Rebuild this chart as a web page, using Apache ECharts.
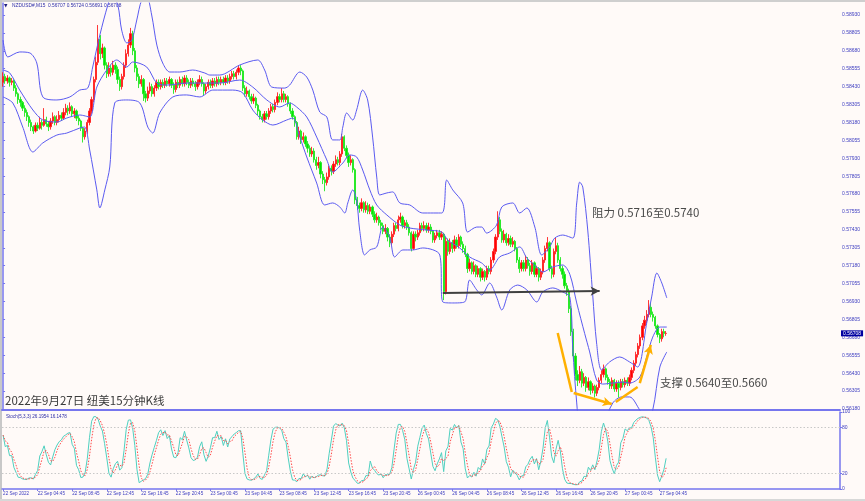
<!DOCTYPE html>
<html><head><meta charset="utf-8">
<script src="https://cdn.jsdelivr.net/npm/echarts@6/dist/echarts.min.js"></script>
<style>html,body{margin:0;padding:0;background:#fffaf8}#c{width:865px;height:501px}</style>
</head><body><div id="c"></div>
<script>
// ---- data (prices in pips: 5846 = 0.5846) ----
const firstOpen = 5846;
const closes = [
5850,5847,5849,5846,5847,5842,5838,5834,5832,5828,
5825,5822,5818,5815,5812,5816,5814,5818,5816,5820,
5817,5815,5819,5822,5818,5820,5823,5821,5825,5828,
5826,5829,5824,5826,5821,5819,5814,5808,5812,5818,
5826,5834,5848,5860,5876,5866,5870,5858,5852,5856,
5853,5858,5855,5848,5843,5850,5858,5866,5872,5880,
5868,5856,5850,5845,5848,5838,5835,5840,5843,5838,
5842,5846,5843,5846,5844,5847,5845,5848,5844,5841,
5846,5844,5848,5845,5849,5846,5844,5847,5845,5843,
5846,5848,5845,5840,5843,5846,5844,5847,5845,5848,
5846,5848,5846,5849,5847,5850,5852,5850,5853,5856,
5854,5842,5838,5840,5836,5833,5835,5830,5826,5822,
5820,5824,5822,5826,5829,5827,5832,5836,5834,5838,
5834,5836,5831,5826,5822,5818,5808,5812,5806,5808,
5803,5800,5796,5798,5792,5788,5790,5782,5778,5776,
5780,5786,5784,5789,5792,5790,5796,5808,5800,5795,
5790,5792,5785,5764,5760,5758,5762,5757,5760,5756,
5759,5754,5750,5752,5748,5746,5742,5744,5738,5734,
5740,5746,5744,5750,5752,5746,5748,5745,5741,5730,
5740,5738,5741,5746,5744,5746,5743,5745,5742,5736,
5739,5741,5738,5740,5700,5735,5728,5734,5730,5736,
5732,5738,5733,5730,5726,5716,5720,5714,5718,5712,
5716,5710,5714,5710,5716,5714,5722,5728,5738,5750,
5742,5736,5740,5734,5737,5733,5735,5730,5722,5716,
5720,5716,5722,5718,5714,5720,5712,5716,5710,5714,
5722,5730,5734,5716,5712,5728,5732,5722,5716,5712,
5704,5700,5688,5672,5655,5642,5638,5644,5636,5640,
5633,5637,5631,5634,5629,5633,5638,5642,5646,5640,
5637,5634,5638,5632,5636,5633,5637,5635,5638,5636,
5640,5645,5650,5656,5662,5668,5676,5680,5684,5689,
5684,5682,5676,5670,5667,5672,5670.7,5670.8];
const highs = [
5853,5852,5851,5850,5849,5848,5844,5839,5836,5833,
5830,5827,5823,5820,5816,5818,5818,5822,5820,5828,
5822,5819,5821,5825,5823,5823,5826,5825,5828,5831,
5830,5832,5830,5828,5827,5823,5820,5815,5814,5820,
5828,5836,5850,5864,5886,5879,5873,5871,5860,5860,
5858,5861,5860,5857,5850,5852,5860,5869,5876,5884,
5882,5870,5858,5852,5851,5849,5840,5843,5846,5845,
5844,5848,5848,5848,5848,5849,5849,5850,5849,5846,
5848,5848,5850,5850,5851,5851,5848,5849,5849,5847,
5848,5851,5850,5846,5845,5848,5848,5849,5849,5850,
5850,5850,5850,5851,5851,5852,5854,5854,5855,5858,
5858,5855,5844,5843,5841,5838,5838,5836,5831,5827,
5824,5826,5826,5828,5831,5831,5834,5839,5838,5842,
5840,5838,5837,5832,5828,5823,5819,5815,5813,5811,
5809,5805,5802,5801,5800,5794,5794,5791,5784,5780,
5783,5788,5788,5791,5795,5794,5798,5810,5809,5802,
5797,5795,5793,5786,5766,5762,5765,5763,5763,5762,
5761,5760,5756,5755,5753,5750,5748,5747,5745,5740,
5742,5748,5748,5753,5755,5753,5750,5750,5747,5742,
5742,5742,5743,5748,5748,5749,5748,5748,5747,5743,
5741,5743,5743,5742,5741,5738,5737,5737,5736,5739,
5738,5740,5739,5735,5732,5727,5723,5721,5721,5719,
5718,5717,5716,5715,5718,5718,5724,5730,5740,5756,
5752,5744,5743,5741,5740,5739,5738,5736,5731,5724,
5722,5722,5725,5724,5720,5722,5721,5718,5717,5716,
5724,5732,5738,5735,5718,5730,5738,5734,5724,5718,
5714,5706,5702,5690,5674,5657,5645,5648,5646,5643,
5641,5640,5638,5636,5635,5635,5640,5645,5649,5647,
5642,5639,5640,5639,5638,5638,5639,5639,5640,5640,
5642,5647,5652,5658,5664,5670,5678,5683,5687,5694,
5692,5686,5683,5677,5671,5674,5674,5672.4];
const lows = [
5843,5845,5845,5843,5844,5840,5836,5831,5829,5826,
5822,5819,5815,5812,5810,5811,5812,5813,5813,5815,
5815,5812,5813,5817,5816,5816,5818,5819,5820,5823,
5823,5824,5822,5821,5819,5816,5812,5804,5806,5810,
5816,5824,5832,5846,5858,5862,5863,5855,5849,5850,
5850,5851,5852,5845,5840,5841,5848,5856,5864,5870,
5865,5853,5847,5842,5843,5833,5832,5833,5838,5836,
5836,5840,5841,5841,5842,5842,5843,5843,5842,5838,
5839,5842,5842,5843,5843,5844,5842,5842,5843,5840,
5841,5844,5843,5837,5838,5841,5842,5842,5843,5843,
5844,5844,5844,5844,5845,5845,5848,5848,5848,5851,
5851,5840,5836,5836,5834,5831,5831,5828,5823,5820,
5818,5818,5820,5820,5824,5825,5825,5830,5832,5832,
5832,5832,5829,5824,5820,5815,5806,5806,5803,5804,
5801,5797,5794,5794,5790,5785,5786,5779,5775,5770,
5774,5778,5781,5782,5787,5788,5788,5794,5798,5793,
5787,5788,5783,5761,5757,5755,5756,5755,5755,5754,
5754,5752,5748,5748,5746,5743,5740,5740,5735,5731,
5732,5738,5742,5742,5748,5744,5744,5743,5739,5728,
5729,5735,5736,5739,5742,5742,5741,5741,5740,5734,
5734,5737,5736,5736,5694,5698,5725,5726,5727,5728,
5730,5730,5731,5727,5724,5713,5714,5712,5712,5710,
5710,5707,5708,5707,5708,5712,5712,5720,5726,5736,
5740,5734,5734,5732,5732,5731,5731,5728,5720,5713,
5714,5714,5714,5716,5711,5712,5710,5710,5707,5708,
5712,5720,5728,5714,5709,5710,5726,5720,5714,5709,
5702,5697,5685,5669,5652,5638,5634,5636,5633,5634,
5630,5631,5628,5629,5626,5627,5631,5636,5640,5638,
5635,5632,5632,5630,5630,5626,5631,5633,5633,5634,
5634,5638,5643,5648,5654,5660,5666,5674,5678,5682,
5682,5679,5674,5668,5664,5665,5668,5669.1];

// Bollinger bands: [bar index, price in pips]
const bbUpper = [[0,5875.5],[2.2,5863.7],[7.7,5867.2],[12.4,5866.5],[15.6,5859.5],[18.4,5835.8],[24.9,5833.7],[30.9,5835.8],[35.5,5840.6],[39.2,5842],[41.5,5856.7],[44.8,5879],[48.5,5900],[50.3,5907],[53.1,5900],[54.9,5882.5],[57.3,5873.5],[59.6,5875.5],[61.9,5889.5],[64.2,5903.5],[66.5,5905.6],[68.8,5893],[71.2,5872],[73.9,5859.5],[77.2,5853.2],[81.8,5853.2],[87.8,5854.6],[93.4,5852.5],[95.7,5851.1],[100.3,5851.1],[109.6,5858.1],[117.9,5861.6],[121.1,5854.6],[124.4,5842.7],[130.4,5842],[132.7,5844.1],[137.4,5853.2],[140.6,5849.7],[143.4,5840.6],[146.6,5825.3],[149.9,5821.8],[152.6,5805.8],[155.9,5805.8],[157.3,5814.8],[159.1,5824.6],[161.9,5819.7],[163.7,5826.7],[166.5,5840.6],[168.8,5833.7],[171.1,5807.8],[173.0,5779.9],[174.4,5767.4],[177.7,5768.8],[180.4,5769.5],[183.7,5761.8],[188.3,5760.4],[194.3,5754.8],[203.1,5754.8],[205.4,5777.8],[208.2,5770.9],[212.8,5761.8],[215.1,5741.5],[219.3,5745],[221.6,5745],[223.9,5740.8],[228.5,5746.4],[230.9,5759],[236.0,5761.8],[239.2,5754.8],[242.5,5758.3],[246.2,5745],[249.4,5725.5],[253.1,5731.1],[255.4,5737.3],[259.1,5739.4],[263.8,5737.3],[265.6,5761.8],[267.0,5776.4],[268.4,5772.9],[270.7,5742.9],[273.0,5697.6],[274.8,5664.1],[277.1,5645.2],[280.8,5650.8],[285.5,5654.3],[290.1,5650.8],[293.8,5647.3],[298.0,5678],[300.3,5696.2],[302.7,5712.9],[305.0,5705.9],[307.3,5695.5]];
const bbMiddle = [[0,5854.6],[3.1,5852.5],[7.7,5840.6],[13.8,5826.7],[18.4,5819.7],[24.9,5818.3],[29.5,5821.1],[35.5,5823.2],[40.1,5821.8],[43.4,5842.7],[48.0,5854.6],[52.6,5861.6],[57.3,5856.7],[60.0,5860.2],[66.5,5856.7],[71.2,5845.5],[75.8,5844.1],[85.0,5845.5],[95.7,5845.5],[100.3,5845.5],[109.6,5847.6],[115.6,5842.7],[122.1,5833.7],[128.1,5828.8],[132.7,5831.6],[135.9,5828.8],[140.6,5821.8],[145.2,5807.8],[149.9,5791.8],[152.6,5783.4],[157.3,5789.7],[160.5,5795.3],[163.7,5793.9],[166.5,5784.8],[169.8,5770.9],[173.0,5760.4],[177.7,5753.4],[183.7,5746.4],[188.3,5744.3],[196.2,5742.9],[203.1,5741.5],[205.9,5735.9],[211.4,5730.4],[216.0,5724.1],[221.6,5719.9],[225.3,5715],[229.9,5724.1],[234.6,5726.9],[239.2,5731.1],[242.5,5723.4],[247.1,5717.1],[249.9,5713.6],[254.5,5717.1],[259.1,5718.5],[262.4,5712],[265.6,5692],[269.3,5670.6],[271.6,5657.8],[274.8,5638.2],[277.6,5635.4],[282.3,5636.1],[286.9,5636.8],[290.1,5636.1],[294.8,5640.3],[298.0,5654.3],[300.8,5668.2],[304.1,5675.2],[307.3,5675.2]];
const bbLower = [[0,5835.8],[4.5,5831.6],[9.1,5814.8],[13.8,5797.4],[18.4,5803.7],[24.9,5809.2],[29.5,5810.6],[35.5,5814.1],[37.8,5814.8],[40.1,5798.8],[43.4,5770.9],[44.8,5758.3],[47.1,5770.9],[49.4,5786.9],[51.7,5831.6],[57.3,5833.7],[63.3,5831.6],[67.0,5814.8],[69.3,5810.6],[72.5,5824.6],[78.6,5835.8],[85.0,5837.2],[91.1,5835.8],[97.1,5840.6],[106.3,5840.6],[111.0,5838.6],[115.6,5826.7],[120.2,5819.7],[124.9,5816.2],[131.3,5819.7],[134.1,5821.1],[137.4,5807.8],[140.6,5793.9],[145.2,5775.7],[148.9,5760.4],[152.6,5761.8],[155.9,5759],[158.2,5754.8],[159.6,5761.8],[161.9,5770.9],[163.7,5763.9],[165.1,5742.9],[167.4,5725.5],[169.8,5729],[173.0,5731.1],[175.8,5745],[179.0,5738],[181.3,5724.1],[185.1,5729],[189.7,5729],[194.3,5730.4],[202.2,5725.5],[203.6,5692.7],[208.2,5692],[213.7,5692.7],[216.0,5708],[219.3,5701.1],[221.6,5697.6],[225.3,5705.9],[228.5,5696.2],[230.9,5687.1],[234.6,5701.1],[238.3,5704.5],[242.5,5701.1],[247.1,5692.7],[249.9,5699.7],[254.5,5702.5],[259.1,5699.7],[262.4,5696.2],[263.8,5659.2],[265.6,5622.2],[267.0,5606.8],[271.6,5596.4],[277.6,5606.8],[282.3,5622.2],[286.4,5626.4],[290.1,5626.4],[294.8,5617.3],[298.0,5610.3],[300.8,5617.3],[304.1,5647.3],[307.3,5657.8]];

// tick labels
const priceTicks = [0.58930,0.58805,0.58680,0.58555,0.58430,0.58305,0.58180,0.58055,0.57930,0.57805,0.57680,0.57555,0.57430,0.57305,0.57180,0.57055,0.56930,0.56805,0.56680,0.56555,0.56430,0.56305,0.56180];
const stochTicks = [0,20,80,100];
const timeLabels = ['22 Sep 2022','22 Sep 04:45','22 Sep 08:45','22 Sep 12:45','22 Sep 16:45','22 Sep 20:45','23 Sep 00:45','23 Sep 04:45','23 Sep 08:45','23 Sep 12:45','23 Sep 16:45','23 Sep 20:45','26 Sep 00:45','26 Sep 04:45','26 Sep 08:45','26 Sep 12:45','26 Sep 16:45','26 Sep 20:45','27 Sep 00:45','27 Sep 04:45'];

// annotations: [bar index, price in pips]
const resistArrow = [[203.6,5699.0],[276.2,5700.4]];
const orangePlain = [[[256.8,5671.0],[263.3,5629.9]],[[283.7,5622.9],[293.8,5633.3]]];
const orangeArrows = [[[264.2,5629.2],[281.8,5621.5]],[[294.8,5636.1],[299.9,5662.7]]];
const titleText = '2022年9月27日 纽美15分钟K线';
const resistText = '阻力 0.5716至0.5740';
const supportText = '支撑 0.5640至0.5660';
const stochText = 'Stoch(5,3,3) 26.1954 16.1478';

// ---- build ----
const SLOTS = 388;
const pad = n => (n < 10 ? '0' : '') + n;
const cats = [];
for (let i = 0; i < SLOTS; i++) {
  let day, m;
  if (i <= 188) { m = 45 + 15 * i; day = 22 + Math.floor(m / 1440); m = m % 1440; }
  else { m = 15 * (i - 189); day = 26 + Math.floor(m / 1440); m = m % 1440; }
  cats.push(day + ' Sep ' + pad(Math.floor(m / 60)) + ':' + pad(m % 60));
}
const P = v => v / 10000;
const opens = closes.map((c, i) => i === 0 ? firstOpen : closes[i - 1]);
const kData = closes.map((c, i) => [P(opens[i]), P(c), P(lows[i]), P(highs[i])]);

// Stochastic(5,3,3)
const N = closes.length, LL = [], HH = [], K = [], D = [];
for (let i = 0; i < N; i++) {
  let lo = Infinity, hi = -Infinity;
  for (let j = Math.max(0, i - 4); j <= i; j++) { lo = Math.min(lo, lows[j]); hi = Math.max(hi, highs[j]); }
  LL.push(lo); HH.push(hi);
}
for (let i = 0; i < N; i++) {
  let num = 0, den = 0;
  for (let j = Math.max(0, i - 2); j <= i; j++) { num += closes[j] - LL[j]; den += HH[j] - LL[j]; }
  K.push(den ? 100 * num / den : 50);
}
for (let i = 0; i < N; i++) {
  let s = 0, c = 0;
  for (let j = Math.max(0, i - 2); j <= i; j++) { s += K[j]; c++; }
  D.push(s / c);
}
const last = N - 1;
const lastPrice = P(closes[last]);
const header = 'NZDUSD#,M15  ' + [opens[last], highs[last], lows[last], closes[last]].map(v => P(v).toFixed(5)).join(' ');

const AX = '#7676ee', LAB = '#3c3cc0', BAND = '#5a5af0';
const bandSeries = (name, arr) => ({
  name, type: 'line', xAxisIndex: 1, yAxisIndex: 0, data: arr.map(p => [p[0], P(p[1])]),
  smooth: 0.3, showSymbol: false, symbol: 'none', silent: true,
  lineStyle: { color: BAND, width: 1 }
});
const seg = (arr) => arr.map(s => [{ coord: [s[0][0], P(s[0][1])] }, { coord: [s[1][0], P(s[1][1])] }]);

const chart = echarts.init(document.getElementById('c'), null, { renderer: 'canvas' });
chart.setOption({
  animation: false,
  backgroundColor: '#fffaf8',
  grid: [
    { left: 2, top: 3, width: 838, height: 407 },
    { left: 2, top: 412, width: 838, height: 77 }
  ],
  xAxis: [
    { type: 'category', gridIndex: 0, data: cats, boundaryGap: true,
      axisLine: { show: true, lineStyle: { color: AX, width: 2 } }, axisTick: { show: false }, axisLabel: { show: false }, splitLine: { show: false } },
    { type: 'value', gridIndex: 0, min: -0.5, max: SLOTS - 0.5, show: false },
    { type: 'category', gridIndex: 1, data: cats, boundaryGap: true,
      axisLine: { show: true, lineStyle: { color: AX, width: 1.5 } },
      axisTick: { show: true, alignWithLabel: true, interval: (idx) => idx % 16 === 0 && idx <= 304, length: 2, lineStyle: { color: AX } },
      axisLabel: { show: true, interval: (idx) => idx % 16 === 0 && idx <= 304, formatter: (v, idx) => timeLabels[idx / 16] || '',
        align: 'left', fontSize: 4.6, color: LAB, margin: 2, fontFamily: 'Liberation Sans' },
      splitLine: { show: false } }
  ],
  yAxis: [
    { type: 'value', gridIndex: 0, position: 'right', min: 0.561729, max: 0.590138, scale: true,
      axisLine: { show: true, lineStyle: { color: AX, width: 1.5 } },
      axisTick: { show: true, customValues: priceTicks, length: 2, lineStyle: { color: AX } },
      axisLabel: { show: true, customValues: priceTicks, formatter: v => v.toFixed(5), fontSize: 5, color: LAB, margin: 2, fontFamily: 'Liberation Sans' },
      splitLine: { show: false } },
    { type: 'value', gridIndex: 1, position: 'right', min: 0, max: 100,
      axisLine: { show: true, lineStyle: { color: AX, width: 1.5 } },
      axisTick: { show: true, customValues: stochTicks, length: 2, lineStyle: { color: AX } },
      axisLabel: { show: true, customValues: stochTicks, fontSize: 5, color: LAB, margin: 2, fontFamily: 'Liberation Sans' },
      splitLine: { show: false } }
  ],
  series: [
    bandSeries('upper', bbUpper),
    bandSeries('middle', bbMiddle),
    bandSeries('lower', bbLower),
    { name: 'NZDUSD', type: 'candlestick', xAxisIndex: 0, yAxisIndex: 0, data: kData, barWidth: 1.8,
      itemStyle: { color: '#ff0000', color0: '#00e600', borderColor: '#ff2020', borderColor0: '#20e820', borderWidth: 0.9 } },
    { name: 'price', type: 'line', xAxisIndex: 1, yAxisIndex: 0, data: [[last, lastPrice]], symbol: 'none', silent: true,
      lineStyle: { width: 0 },
      markLine: { silent: true, symbol: ['none', 'none'], data: [[{ coord: [last, lastPrice] }, { coord: [SLOTS - 0.5, lastPrice] }]],
        lineStyle: { color: 'rgba(0,0,0,0)', width: 1 },
        label: { show: true, position: 'end', distance: 1, formatter: lastPrice.toFixed(5), color: '#ffffff',
          backgroundColor: '#0000a0', fontSize: 5, padding: [1, 2, 0, 2], fontFamily: 'Liberation Sans' } } },
    { name: 'arrows', type: 'line', xAxisIndex: 1, yAxisIndex: 0, data: [], silent: true,
      markLine: { silent: true, symbol: ['none', 'arrow'], symbolSize: [7, 9], label: { show: false },
        data: [
          [{ coord: [resistArrow[0][0], P(resistArrow[0][1])], lineStyle: { color: '#404040', width: 2, type: 'solid' } },
           { coord: [resistArrow[1][0], P(resistArrow[1][1])] }],
          ...seg(orangeArrows).map(s => [Object.assign(s[0], { lineStyle: { color: '#ffb000', width: 2.5, type: 'solid' } }), s[1]])
        ] } },
    { name: 'orange', type: 'line', xAxisIndex: 1, yAxisIndex: 0, data: [], silent: true,
      markLine: { silent: true, symbol: ['none', 'none'], label: { show: false },
        lineStyle: { color: '#ffb000', width: 2.5, type: 'solid' },
        data: seg(orangePlain) } },
    { name: '%K', type: 'line', xAxisIndex: 2, yAxisIndex: 1, data: K, showSymbol: false, symbol: 'none', silent: true,
      lineStyle: { color: '#4fd0c0', width: 1 },
      markLine: { silent: true, symbol: ['none', 'none'], label: { show: false },
        lineStyle: { color: '#c8c8c8', width: 1, type: [1.5, 2] }, data: [{ yAxis: 20 }, { yAxis: 80 }] } },
    { name: '%D', type: 'line', xAxisIndex: 2, yAxisIndex: 1, data: D, showSymbol: false, symbol: 'none', silent: true,
      lineStyle: { color: '#ff4a4a', width: 1, type: [1.5, 1.5] } }
  ],
  graphic: [
    { type: 'rect', left: 0, top: 0, shape: { width: 865, height: 2 }, style: { fill: '#cfcfcf' }, silent: true },
    { type: 'rect', left: 0, top: 0, shape: { width: 2, height: 501 }, style: { fill: '#c8c8c8' }, silent: true },
    { type: 'rect', left: 0, top: 499, shape: { width: 865, height: 2 }, style: { fill: '#d8d8d8' }, silent: true },
    { type: 'text', left: 4, top: 3, style: { text: '▼', fontSize: 4.5, fill: '#202080', fontFamily: 'DejaVu Sans' }, silent: true },
    { type: 'text', left: 12, top: 3.5, style: { text: header, fontSize: 4.8, fill: '#2d2da8', fontFamily: 'Liberation Sans' }, silent: true },
    { type: 'text', left: 6, top: 414.5, style: { text: stochText, fontSize: 4.6, fill: '#2d2da8', fontFamily: 'Liberation Sans' }, silent: true },
    { type: 'text', left: 5, top: 395, style: { text: titleText, fontSize: 11.5, fill: '#3a3a3a', fontFamily: 'Noto Sans CJK SC' }, silent: true },
    { type: 'text', left: 592, top: 207, style: { text: resistText, fontSize: 11.5, fill: '#4a4a4a', fontFamily: 'Noto Sans CJK SC' }, silent: true },
    { type: 'text', left: 660, top: 377, style: { text: supportText, fontSize: 11.5, fill: '#4a4a4a', fontFamily: 'Noto Sans CJK SC' }, silent: true }
  ]
});
</script></body></html>
